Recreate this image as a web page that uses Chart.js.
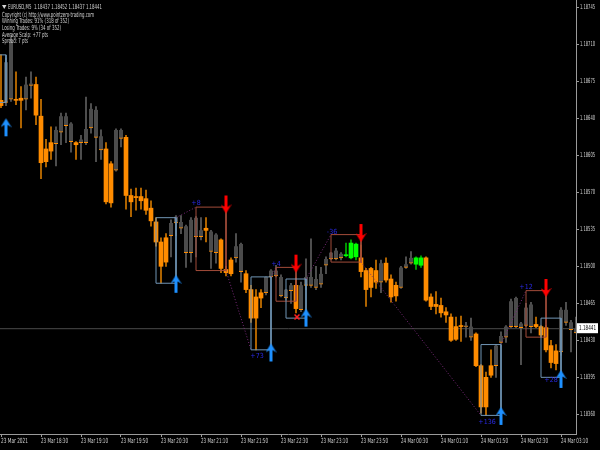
<!DOCTYPE html>
<html>
<head>
<meta charset="utf-8">
<script src="https://cdn.jsdelivr.net/npm/chart.js@4.4.1/dist/chart.umd.min.js"></script>
<style>
  html, body { margin:0; padding:0; background:#000; }
  canvas { display:block; background:#000; }
</style>
</head>
<body>
<canvas id="chart" width="600" height="450"></canvas>
<script>
// EURUSD M5 candles, one per 5 minutes from 23 Mar 17:50
const opens = [1.18657,1.18655,1.18658,1.18658,1.18659,1.18658,1.18671,1.18672,1.18642,1.18611,
  1.18617,1.18616,1.18627,1.18633,1.18618,1.18617,1.18617,1.18617,1.18631,1.18622,
  1.18610,1.18611,1.18597,1.18591,1.18621,1.18622,1.18567,1.18566,1.18566,1.18564,
  1.18555,1.18542,1.18523,1.18527,1.18529,1.18541,1.18536,1.18513,1.18513,1.18528,
  1.18528,1.18536,1.18514,1.18513,1.18525,1.18497,1.18506,1.18508,1.18495,1.18493,
  1.18478,1.18471,1.18475,1.18475,1.18490,1.18491,1.18472,1.18470,1.18477,1.18482,
  1.18459,1.18482,1.18482,1.18480,1.18483,1.18501,1.18507,1.18507,1.18508,1.18510,
  1.18508,1.18509,1.18508,1.18496,1.18498,1.18496,1.18485,1.18503,1.18488,1.18482,
  1.18480,1.18499,1.18503,1.18502,1.18501,1.18508,1.18471,1.18464,1.18463,1.18457,
  1.18452,1.18443,1.18444,1.18443,1.18433,1.18436,1.18406,1.18395,1.18406,1.18406,
  1.18428,1.18433,1.18443,1.18443,1.18442,1.18444,1.18443,1.18445,1.18443,1.18442,
  1.18425,1.18420,1.18419,1.18447,1.18440,1.18437];
const highs = [1.18700,1.18697,1.18719,1.18684,1.18670,1.18679,1.18684,1.18679,1.18658,1.18620,
  1.18632,1.18632,1.18645,1.18645,1.18636,1.18618,1.18624,1.18660,1.18654,1.18651,
  1.18629,1.18617,1.18599,1.18630,1.18630,1.18624,1.18573,1.18574,1.18574,1.18572,
  1.18562,1.18546,1.18527,1.18531,1.18544,1.18548,1.18548,1.18539,1.18546,1.18547,
  1.18546,1.18546,1.18534,1.18531,1.18526,1.18500,1.18508,1.18531,1.18522,1.18496,
  1.18482,1.18478,1.18478,1.18490,1.18497,1.18501,1.18492,1.18478,1.18484,1.18489,
  1.18485,1.18507,1.18526,1.18500,1.18499,1.18509,1.18513,1.18517,1.18513,1.18522,
  1.18525,1.18522,1.18520,1.18498,1.18499,1.18506,1.18506,1.18508,1.18492,1.18485,
  1.18500,1.18509,1.18514,1.18509,1.18510,1.18509,1.18474,1.18476,1.18470,1.18461,
  1.18455,1.18452,1.18453,1.18447,1.18451,1.18437,1.18407,1.18400,1.18421,1.18426,
  1.18438,1.18444,1.18469,1.18471,1.18447,1.18465,1.18466,1.18452,1.18444,1.18444,
  1.18430,1.18426,1.18461,1.18466,1.18449,1.18452];
const lows = [1.18650,1.18652,1.18656,1.18653,1.18631,1.18648,1.18659,1.18634,1.18583,1.18594,
  1.18601,1.18595,1.18615,1.18617,1.18608,1.18601,1.18601,1.18615,1.18626,1.18599,
  1.18601,1.18559,1.18556,1.18590,1.18613,1.18554,1.18547,1.18553,1.18554,1.18549,
  1.18538,1.18519,1.18484,1.18500,1.18509,1.18529,1.18531,1.18499,1.18504,1.18509,
  1.18525,1.18523,1.18498,1.18503,1.18494,1.18491,1.18491,1.18504,1.18485,1.18475,
  1.18447,1.18421,1.18461,1.18473,1.18489,1.18490,1.18471,1.18468,1.18465,1.18456,
  1.18457,1.18478,1.18480,1.18478,1.18480,1.18493,1.18506,1.18506,1.18506,1.18509,
  1.18507,1.18506,1.18490,1.18462,1.18471,1.18479,1.18475,1.18485,1.18466,1.18467,
  1.18479,1.18498,1.18502,1.18497,1.18499,1.18467,1.18459,1.18455,1.18452,1.18447,
  1.18429,1.18430,1.18429,1.18433,1.18430,1.18405,1.18361,1.18359,1.18395,1.18395,
  1.18427,1.18428,1.18442,1.18442,1.18407,1.18443,1.18437,1.18442,1.18433,1.18419,
  1.18404,1.18402,1.18416,1.18444,1.18419,1.18437];
const closes = [1.18652,1.18693,1.18712,1.18657,1.18657,1.18672,1.18673,1.18643,1.18598,1.18599,
  1.18609,1.18629,1.18642,1.18642,1.18635,1.18615,1.18620,1.18630,1.18649,1.18648,
  1.18623,1.18561,1.18560,1.18629,1.18629,1.18567,1.18561,1.18565,1.18562,1.18553,
  1.18543,1.18523,1.18500,1.18504,1.18541,1.18547,1.18542,1.18538,1.18544,1.18546,
  1.18534,1.18534,1.18533,1.18530,1.18498,1.18494,1.18493,1.18519,1.18521,1.18478,
  1.18451,1.18451,1.18470,1.18490,1.18496,1.18496,1.18490,1.18478,1.18482,1.18460,
  1.18482,1.18490,1.18490,1.18488,1.18493,1.18507,1.18513,1.18515,1.18512,1.18511,
  1.18522,1.18521,1.18495,1.18478,1.18480,1.18485,1.18503,1.18487,1.18471,1.18472,
  1.18499,1.18502,1.18508,1.18508,1.18508,1.18468,1.18462,1.18462,1.18456,1.18454,
  1.18430,1.18431,1.18443,1.18444,1.18443,1.18406,1.18367,1.18367,1.18397,1.18425,
  1.18434,1.18443,1.18467,1.18470,1.18446,1.18461,1.18464,1.18443,1.18435,1.18421,
  1.18409,1.18408,1.18459,1.18459,1.18447,1.18441];
const greenBars = [69, 70, 71, 83, 84];

const timeTickIdx = [0, 8, 16, 24, 32, 40, 48, 56, 64, 72, 80, 88, 96, 104, 112];
const timeLabels = ['23 Mar 2021','23 Mar 18:30','23 Mar 19:10','23 Mar 19:50','23 Mar 20:30',
  '23 Mar 21:10','23 Mar 21:50','23 Mar 22:30','23 Mar 23:10','23 Mar 23:50',
  '24 Mar 00:30','24 Mar 01:10','24 Mar 01:50','24 Mar 02:30','24 Mar 03:10'];
const priceTicks = [1.18360,1.18395,1.18430,1.18465,1.18500,1.18535,1.18570,1.18605,1.18640,1.18675,1.18710,1.18745];
const yMin = 1.183414, yMax = 1.187519;
const xMin = -0.2, xMax = 115;
const bidPrice = 1.18441;

// signals
const buyArrowIdx = [1, 35, 54, 61, 100, 112];
const buyArrowPrice = [1.18640, 1.18492, 1.18427, 1.18460, 1.18367, 1.18402];
const sellArrowIdx = [45, 59, 72, 109];
const sellArrowPrice = [1.18550, 1.18494, 1.18523, 1.18471];

const buyBoxStart = [-2, 31, 50, 57, 96, 108];
const buyBoxEnd = [1, 35, 54, 61, 100, 112];
const buyBoxTop = [1.18700, 1.18546, 1.18490, 1.18488, 1.18426, 1.18451];
const buyBoxBottom = [1.18655, 1.18484, 1.18421, 1.18451, 1.18359, 1.18395];
const sellBoxStart = [39, 55, 66, 105];
const sellBoxEnd = [45, 59, 72, 109];
const sellBoxTop = [1.18556, 1.18499, 1.18530, 1.18477];
const sellBoxBottom = [1.18496, 1.18467, 1.18504, 1.18433];

const linkFrom = [[35, 1.18546], [45, 1.18496], [54, 1.18490], [61, 1.18488], [72, 1.18504], [100, 1.18426]];
const linkTo = [[39, 1.18556], [50, 1.18421], [55, 1.18499], [66, 1.18530], [96, 1.18359], [105, 1.18477]];

const profitTexts = ['+8', '+73', '+4', '-36', '+136', '+12', '+28'];
const profitIdx = [39, 51.2, 55, 66.2, 97.2, 105, 110];
const profitPrice = [1.18560, 1.18415, 1.18502, 1.18532, 1.18353, 1.18480, 1.18392];

const closeMarkIdx = [59.2];
const closeMarkPrice = [1.18452];

const infoLines = ['EURUSD,M5  1.18437 1.18452 1.18437 1.18441',
  'Copyright (c) http://www.pointzero-trading.com',
  'Winning Trades: 91% (318 of 352)',
  'Losing Trades: 9% (34 of 352)',
  'Average Scalp: +77 pts',
  'Spread: 7 pts'];

const FONT = '7px "Liberation Sans Narrow", "DejaVu Sans Condensed", "Liberation Sans", sans-serif';
const TEXT = '#d4d4d4';
const AXIS = '#9a9a9a';

const kind = opens.map((o, i) => greenBars.includes(i) ? 'green' : (closes[i] >= o ? 'bull' : 'bear'));
const bodyColor = {bull: '#4b4b4b', bear: '#ff8c00', green: '#00ff00'};
const wickColor = {bull: '#5e5e5e', bear: '#d27800', green: '#00b400'};

function boxPoints(starts, ends, tops, bottoms){
  const pts = [];
  starts.forEach((s, k) => {
    const e = ends[k], t = tops[k], b = bottoms[k];
    pts.push({x:s, y:t}, {x:e, y:t}, {x:e, y:b}, {x:s, y:b}, {x:s, y:t}, {x:s, y:null});
  });
  return pts;
}

function arrowImage(color, up){
  const c = document.createElement('canvas');
  c.width = 11; c.height = 38;
  const g = c.getContext('2d');
  const pts = up
    ? [[5.5,19],[11,28],[7,25.5],[7,37],[4,37],[4,25.5],[0,28]]
    : [[5.5,19],[11,10],[7,12.5],[7,1],[4,1],[4,12.5],[0,10]];
  g.fillStyle = color;
  g.beginPath();
  pts.forEach(([px, py], k) => k ? g.lineTo(px, py) : g.moveTo(px, py));
  g.closePath();
  g.fill();
  return c;
}

const linkPoints = [];
linkFrom.forEach((f, k) => {
  linkPoints.push({x:f[0], y:f[1]}, {x:linkTo[k][0], y:linkTo[k][1]}, {x:f[0], y:null});
});

const idx = opens.map((_, i) => i);

const overlay = {
  id: 'overlay',
  afterDraw(chart){
    const {ctx, scales:{x, y}} = chart;
    ctx.save();
    ctx.font = FONT;
    ctx.textBaseline = 'middle';

    // trade results
    ctx.fillStyle = '#2a2ae6';
    ctx.textAlign = 'center';
    profitTexts.forEach((t, k) => {
      ctx.fillText(t, x.getPixelForValue(profitIdx[k]), y.getPixelForValue(profitPrice[k]), 4 * t.length + 2);
    });

    // info block
    ctx.fillStyle = TEXT;
    ctx.textAlign = 'left';
    const lx = [8, 2, 2, 2, 2, 2];
    const ly = [7, 15, 21.5, 28, 35, 41.5];
    const lw = [94, 92, 67, 59, 46, 26];
    infoLines.forEach((t, k) => ctx.fillText(t, lx[k], ly[k], lw[k]));
    ctx.beginPath();
    ctx.moveTo(2, 5); ctx.lineTo(6.5, 5); ctx.lineTo(4.25, 9); ctx.closePath();
    ctx.fill();

    // axis labels
    x.ticks.forEach((t, k) => ctx.fillText(timeLabels[k], x.getPixelForValue(t.value), 441.5, 27));
    y.ticks.forEach(t => ctx.fillText(t.value.toFixed(5), 580, y.getPixelForValue(t.value), 15));

    // bid price tag
    const py = y.getPixelForValue(bidPrice);
    ctx.fillStyle = '#ffffff';
    ctx.fillRect(577, py - 5.5, 21, 10);
    ctx.fillStyle = '#000000';
    ctx.fillText(bidPrice.toFixed(5), 579, py - 0.5, 17);
    ctx.restore();
  }
};

new Chart(document.getElementById('chart'), {
  type: 'bar',
  data: {
    datasets: [
      {
        type: 'scatter', data: buyArrowIdx.map((v, k) => ({x:v, y:buyArrowPrice[k]})),
        pointStyle: arrowImage('#1e90ff', true)
      },
      {
        type: 'scatter', data: sellArrowIdx.map((v, k) => ({x:v, y:sellArrowPrice[k]})),
        pointStyle: arrowImage('#ff0000', false)
      },
      {
        type: 'scatter', data: closeMarkIdx.map((v, k) => ({x:v, y:closeMarkPrice[k]})),
        pointStyle: 'crossRot', pointRadius: 3.5, borderColor: '#ff2020', borderWidth: 1.5
      },
      {
        type: 'line', data: boxPoints(buyBoxStart, buyBoxEnd, buyBoxTop, buyBoxBottom),
        borderColor: '#7196b6', borderWidth: 1, pointRadius: 0, spanGaps: false, fill: false
      },
      {
        type: 'line', data: boxPoints(sellBoxStart, sellBoxEnd, sellBoxTop, sellBoxBottom),
        borderColor: '#a34c3a', borderWidth: 1, pointRadius: 0, spanGaps: false, fill: false
      },
      {
        type: 'line', data: linkPoints,
        borderColor: '#7c2a7c', borderWidth: 1, borderDash: [1, 2], pointRadius: 0, spanGaps: false, fill: false
      },
      {
        label: 'body',
        data: idx.map(i => ({x:i, y:[opens[i], closes[i]]})),
        backgroundColor: idx.map(i => bodyColor[kind[i]]),
        borderColor: '#ff8c00',
        borderWidth: idx.map(i => kind[i] === 'bull' ? {top:0, right:0, bottom:1, left:0} : 0),
        borderSkipped: false,
        barThickness: 4, minBarLength: 1, grouped: false
      },
      {
        label: 'wick',
        data: idx.map(i => ({x:i, y:[lows[i], highs[i]]})),
        backgroundColor: idx.map(i => wickColor[kind[i]]),
        barThickness: 1, grouped: false
      },
      {
        type: 'line', data: [{x:xMin, y:bidPrice}, {x:xMax + 2, y:bidPrice}],
        borderColor: '#4a4a4a', borderWidth: 1, pointRadius: 0
      }
    ]
  },
  options: {
    responsive: false,
    animation: false,
    events: [],
    layout: { padding: 0, autoPadding: false },
    plugins: { legend: { display: false }, tooltip: { enabled: false } },
    scales: {
      x: {
        type: 'linear', min: xMin, max: xMax, offset: false,
        afterBuildTicks: s => { s.ticks = timeTickIdx.map(v => ({value: v})); },
        afterFit: s => { s.height = 16; s.paddingLeft = 0; s.paddingRight = 0; },
        ticks: { display: false },
        grid: { drawOnChartArea: false, drawTicks: true, tickLength: 3, color: AXIS, offset: false },
        border: { display: true, color: AXIS }
      },
      y: {
        type: 'linear', position: 'right', min: yMin, max: yMax,
        afterBuildTicks: s => { s.ticks = priceTicks.map(v => ({value: v})); },
        afterFit: s => { s.width = 24; s.paddingTop = 0; s.paddingBottom = 0; },
        ticks: { display: false },
        grid: { drawOnChartArea: false, drawTicks: true, tickLength: 3, color: AXIS },
        border: { display: true, color: AXIS }
      }
    }
  },
  plugins: [overlay]
});
</script>
</body>
</html>
